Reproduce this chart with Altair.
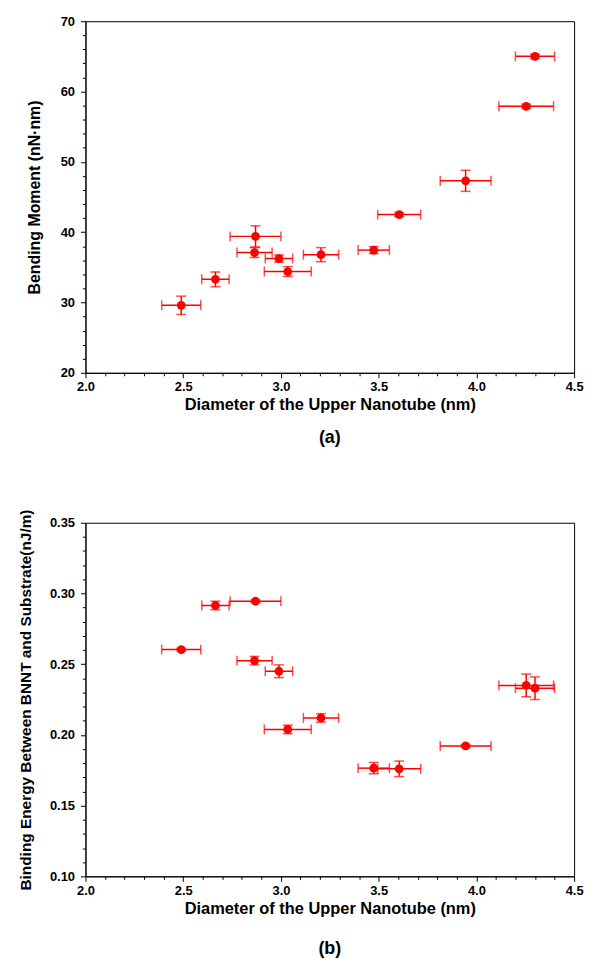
import altair as alt
import pandas as pd

# ---- data ----
diam = [2.49, 2.665, 2.87, 2.865, 2.99, 3.035, 3.205, 3.475, 3.605, 3.945, 4.255, 4.30]
diam_err = [0.10, 0.07, 0.13, 0.09, 0.07, 0.12, 0.09, 0.08, 0.11, 0.13, 0.14, 0.10]

moment = [29.6, 33.3, 39.4, 37.1, 36.25, 34.4, 36.8, 37.45, 42.5, 47.3, 57.9, 65.0]
moment_err = [1.3, 1.05, 1.5, 0.7, 0.5, 0.7, 1.0, 0.5, 0.3, 1.5, 0.3, 0.3]

energy = [0.2603, 0.2915, 0.2945, 0.2525, 0.245, 0.2039, 0.212, 0.1765, 0.176, 0.1922, 0.235, 0.233]
energy_err = [0.001, 0.003, 0.001, 0.003, 0.0045, 0.003, 0.003, 0.004, 0.0055, 0.001, 0.008, 0.008]

x_ticks = [round(2.0 + 0.1 * i, 1) for i in range(26)]
y1_ticks = list(range(20, 71, 2))
y2_ticks = [round(0.10 + 0.01 * i, 2) for i in range(26)]

X_TITLE = "Diameter of the Upper Nanotube (nm)"
Y1_TITLE = "Bending Moment (nN\u00b7nm)"
Y2_TITLE = "Binding Energy Between BNNT and Substrate(nJ/m)"

FONT = "Liberation Sans"
RED = "#ff0000"


def make_df(yv, ye):
    df = pd.DataFrame({"x": diam, "xe": diam_err, "y": yv, "ye": ye})
    df["xlo"] = df.x - df.xe
    df["xhi"] = df.x + df.xe
    df["ylo"] = df.y - df.ye
    df["yhi"] = df.y + df.ye
    return df


def panel(df, ydomain, yticks, ytitle, major_test_y, yfmt, label, h, ytitlepad, ytitlesize, label_offset):
    xscale = alt.Scale(domain=[2.0, 4.5], nice=False, zero=False)
    yscale = alt.Scale(domain=ydomain, nice=False, zero=False)
    xmajor = "abs(datum.value*2 - round(datum.value*2)) < 1e-6"
    xaxis = alt.Axis(
        values=x_ticks,
        tickCount=40,
        title=X_TITLE,
        titleFontSize=16.5,
        labelExpr=xmajor + " ? format(datum.value, '.1f') : ''",
        tickSize={"condition": {"test": xmajor, "value": 5}, "value": 3},
        labelOverlap=False,
        labelFlush=False,
        labelPadding=3,
        titlePadding=3,
    )
    yaxis = alt.Axis(
        values=yticks,
        tickCount=40,
        title=ytitle,
        titleFontSize=ytitlesize,
        labelExpr=major_test_y + " ? format(datum.value, '" + yfmt + "') : ''",
        tickSize={"condition": {"test": major_test_y, "value": 5}, "value": 3},
        labelOverlap=False,
        labelFlush=False,
        labelPadding=6,
        titlePadding=ytitlepad,
    )
    base = alt.Chart(df)
    hbar = base.mark_rule(color=RED, strokeWidth=1.5).encode(
        x=alt.X("xlo:Q", scale=xscale, axis=xaxis),
        x2="xhi:Q",
        y=alt.Y("y:Q", scale=yscale, axis=yaxis),
    )
    vbar = base.mark_rule(color=RED, strokeWidth=1.5).encode(
        x="x:Q", y="ylo:Q", y2="yhi:Q"
    )
    cap_l = base.mark_tick(color=RED, thickness=1.5, size=10, orient="vertical").encode(x="xlo:Q", y="y:Q")
    cap_r = base.mark_tick(color=RED, thickness=1.5, size=10, orient="vertical").encode(x="xhi:Q", y="y:Q")
    cap_b = base.mark_tick(color=RED, thickness=1.5, size=10, orient="horizontal").encode(x="x:Q", y="ylo:Q")
    cap_t = base.mark_tick(color=RED, thickness=1.5, size=10, orient="horizontal").encode(x="x:Q", y="yhi:Q")
    pts = base.mark_circle(color=RED, size=78, opacity=1).encode(x="x:Q", y="y:Q")
    return alt.layer(hbar, vbar, cap_l, cap_r, cap_b, cap_t, pts).properties(
        width=492,
        height=h,
        title=alt.TitleParams(label, orient="bottom", fontSize=18, font=FONT, fontWeight="bold",
                              offset=label_offset, anchor="middle"),
    )


top = panel(make_df(moment, moment_err), [20, 70], y1_ticks, Y1_TITLE,
            "datum.value % 10 == 0", "d", "(a)", 354, 18, 16, 16)
bottom = panel(make_df(energy, energy_err), [0.10, 0.35], y2_ticks, Y2_TITLE,
               "abs(datum.value*20 - round(datum.value*20)) < 1e-6", ".2f", "(b)", 356, 16, 15.5, 24)

chart = alt.vconcat(top, bottom, spacing=61).configure_view(
    stroke="black", strokeWidth=1
).configure_axis(
    grid=False,
    domainColor="black",
    tickColor="black",
    domainWidth=1,
    tickWidth=1,
    labelFont=FONT,
    labelFontSize=13,
    labelFontWeight="bold",
    labelColor="black",
    titleFont=FONT,
    titleFontSize=16,
    titleFontWeight="bold",
    titleColor="black",
).properties(padding={"left": 10, "top": 3, "right": 5, "bottom": 5})

chart.save("out.html", embed_options={"renderer": "svg", "actions": False})
